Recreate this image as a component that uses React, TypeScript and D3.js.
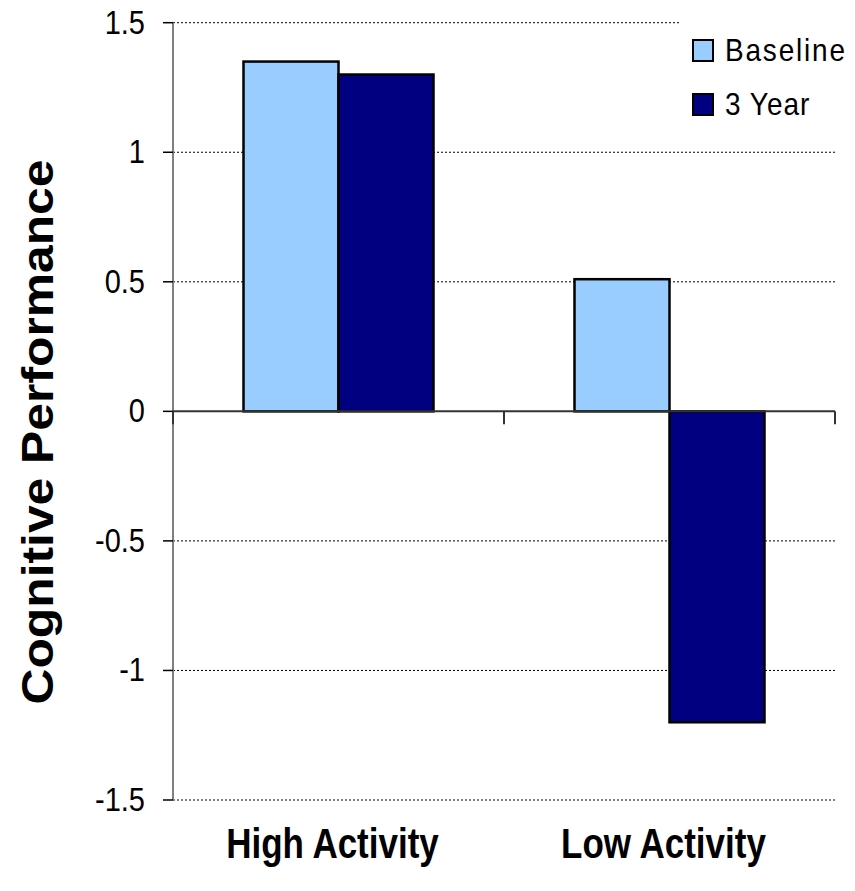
import * as d3 from "d3";
import React from "react";

// chart values
const groups = ["High Activity", "Low Activity"];
const seriesNames = ["Baseline", "3 Year"];
const baseline = [1.35, 0.51];
const threeYear = [1.3, -1.2];
const yTicks = [1.5, 1, 0.5, 0, -0.5, -1, -1.5];
const yTickLabels = ["1.5", "1", "0.5", "0", "-0.5", "-1", "-1.5"];

const W = 855;
const H = 891;
const plot = { l: 173, r: 835, t: 22.7, b: 800 };
const colors = ["#99CCFF", "#000080"];
const font = "'Liberation Sans', Arial, sans-serif";

export default function App() {
  const y = d3.scaleLinear().domain([-1.5, 1.5]).range([plot.b, plot.t]);
  const x0 = d3
    .scaleBand<string>()
    .domain(groups)
    .range([plot.l, plot.r])
    .paddingInner(0.426)
    .paddingOuter(0.213);
  const x1 = d3
    .scaleBand<string>()
    .domain(seriesNames)
    .range([0, x0.bandwidth()]);

  const rows = groups.map((g, i) => ({ g, vals: [baseline[i], threeYear[i]] }));
  const y0 = y(0);
  const step = x0.step();

  return (
    <svg
      width={W}
      height={H}
      style={{ position: "absolute", left: 0, top: 0, background: "#fff" }}
      fontFamily={font}
    >
      {/* gridlines */}
      {yTicks
        .filter((t) => t !== 0)
        .map((t) => (
          <line
            key={"g" + t}
            x1={plot.l}
            x2={plot.r}
            y1={y(t)}
            y2={y(t)}
            stroke="#000"
            strokeWidth={1}
            strokeDasharray="2,2"
          />
        ))}

      {/* bars */}
      {rows.map((row) =>
        row.vals.map((v, j) => (
          <rect
            key={row.g + j}
            x={(x0(row.g) ?? 0) + (x1(seriesNames[j]) ?? 0)}
            y={Math.min(y(v), y0)}
            width={x1.bandwidth()}
            height={Math.abs(y(v) - y0)}
            fill={colors[j]}
            stroke="#000"
            strokeWidth={2.5}
          />
        ))
      )}

      {/* y axis */}
      <line x1={plot.l} x2={plot.l} y1={plot.t} y2={plot.b} stroke="#808080" strokeWidth={2} />
      {yTicks.map((t, i) => (
        <g key={"t" + t}>
          <line x1={plot.l - 10} x2={plot.l} y1={y(t)} y2={y(t)} stroke="#000" strokeWidth={1.5} />
          <g transform={`translate(145,${y(t) + 11}) scale(1,1.15)`}>
            <text textAnchor="end" fontSize={29} fill="#000">
              {yTickLabels[i]}
            </text>
          </g>
        </g>
      ))}

      {/* zero line with category ticks */}
      <line x1={plot.l} x2={plot.r} y1={y0} y2={y0} stroke="#333" strokeWidth={2} />
      {[0, 1, 2].map((k) => (
        <line
          key={"c" + k}
          x1={plot.l + k * step}
          x2={plot.l + k * step}
          y1={y0}
          y2={y0 + 13}
          stroke="#333"
          strokeWidth={2}
        />
      ))}

      {/* category labels */}
      {groups.map((g) => (
        <g
          key={g}
          transform={`translate(${(x0(g) ?? 0) + x0.bandwidth() / 2 - 6},858) scale(1,1.22)`}
        >
          <text textAnchor="middle" fontSize={35} fontWeight="bold" fill="#000">
            {g}
          </text>
        </g>
      ))}

      {/* y title */}
      <text
        transform={`translate(53,432) rotate(-90)`}
        textAnchor="middle"
        fontSize={45}
        fontWeight="bold"
        textLength={545}
        lengthAdjust="spacingAndGlyphs"
        fill="#000"
      >
        Cognitive Performance
      </text>

      {/* legend */}
      <rect x={681} y={12} width={174} height={110} fill="#fff" />
      {seriesNames.map((s, j) => (
        <g key={s} transform={`translate(693,${40 + j * 54})`}>
          <rect x={0} y={0} width={20} height={21} fill={colors[j]} stroke="#000" strokeWidth={2} />
          <g transform="translate(32,21) scale(1,1.12)">
            <text fontSize={28} letterSpacing={j === 0 ? 1.8 : 1} fill="#000">
              {s}
            </text>
          </g>
        </g>
      ))}
    </svg>
  );
}
